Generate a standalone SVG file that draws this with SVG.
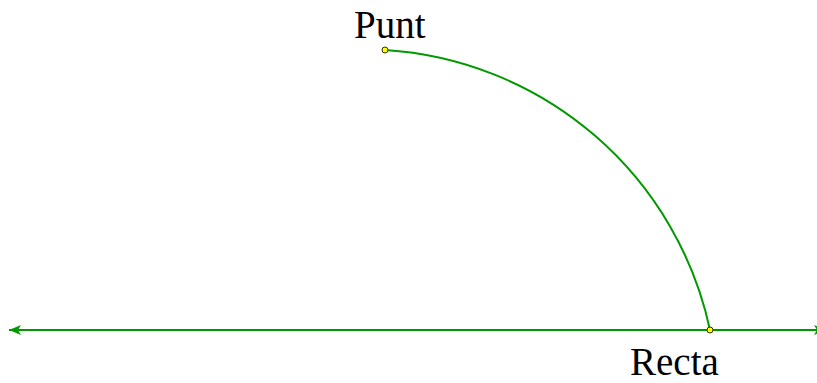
<svg xmlns="http://www.w3.org/2000/svg" width="817" height="383" viewBox="0 0 817 383">
<style>
.ln{stroke:#009900;stroke-width:2;fill:none}
.pt{fill:#ffff00;stroke:#333300;stroke-width:1}
.lbl{font-family:"Liberation Serif","Times New Roman",serif;font-size:39px;fill:#000}
</style>
<defs>
<marker id="ah" viewBox="0 0 12 10" refX="12" refY="5" markerWidth="12" markerHeight="10" markerUnits="userSpaceOnUse" orient="auto-start-reverse">
<path d="M0,0 L12,5 L0,10 L3,5 Z" fill="#009900"/>
</marker>
</defs>
<g id="connectors">
<line class="ln" x1="9" y1="330" x2="826" y2="330" marker-start="url(#ah)" marker-end="url(#ah)"/>
<path class="ln" d="M385,50 A355,355 0 0 1 710,330"/>
</g>
<g id="punt">
<circle class="pt" cx="385" cy="50" r="3"/>
<text class="lbl" x="354" y="38">Punt</text>
</g>
<g id="recta">
<circle class="pt" cx="710" cy="330" r="3"/>
<text class="lbl" x="630" y="375">Recta</text>
</g>
</svg>
